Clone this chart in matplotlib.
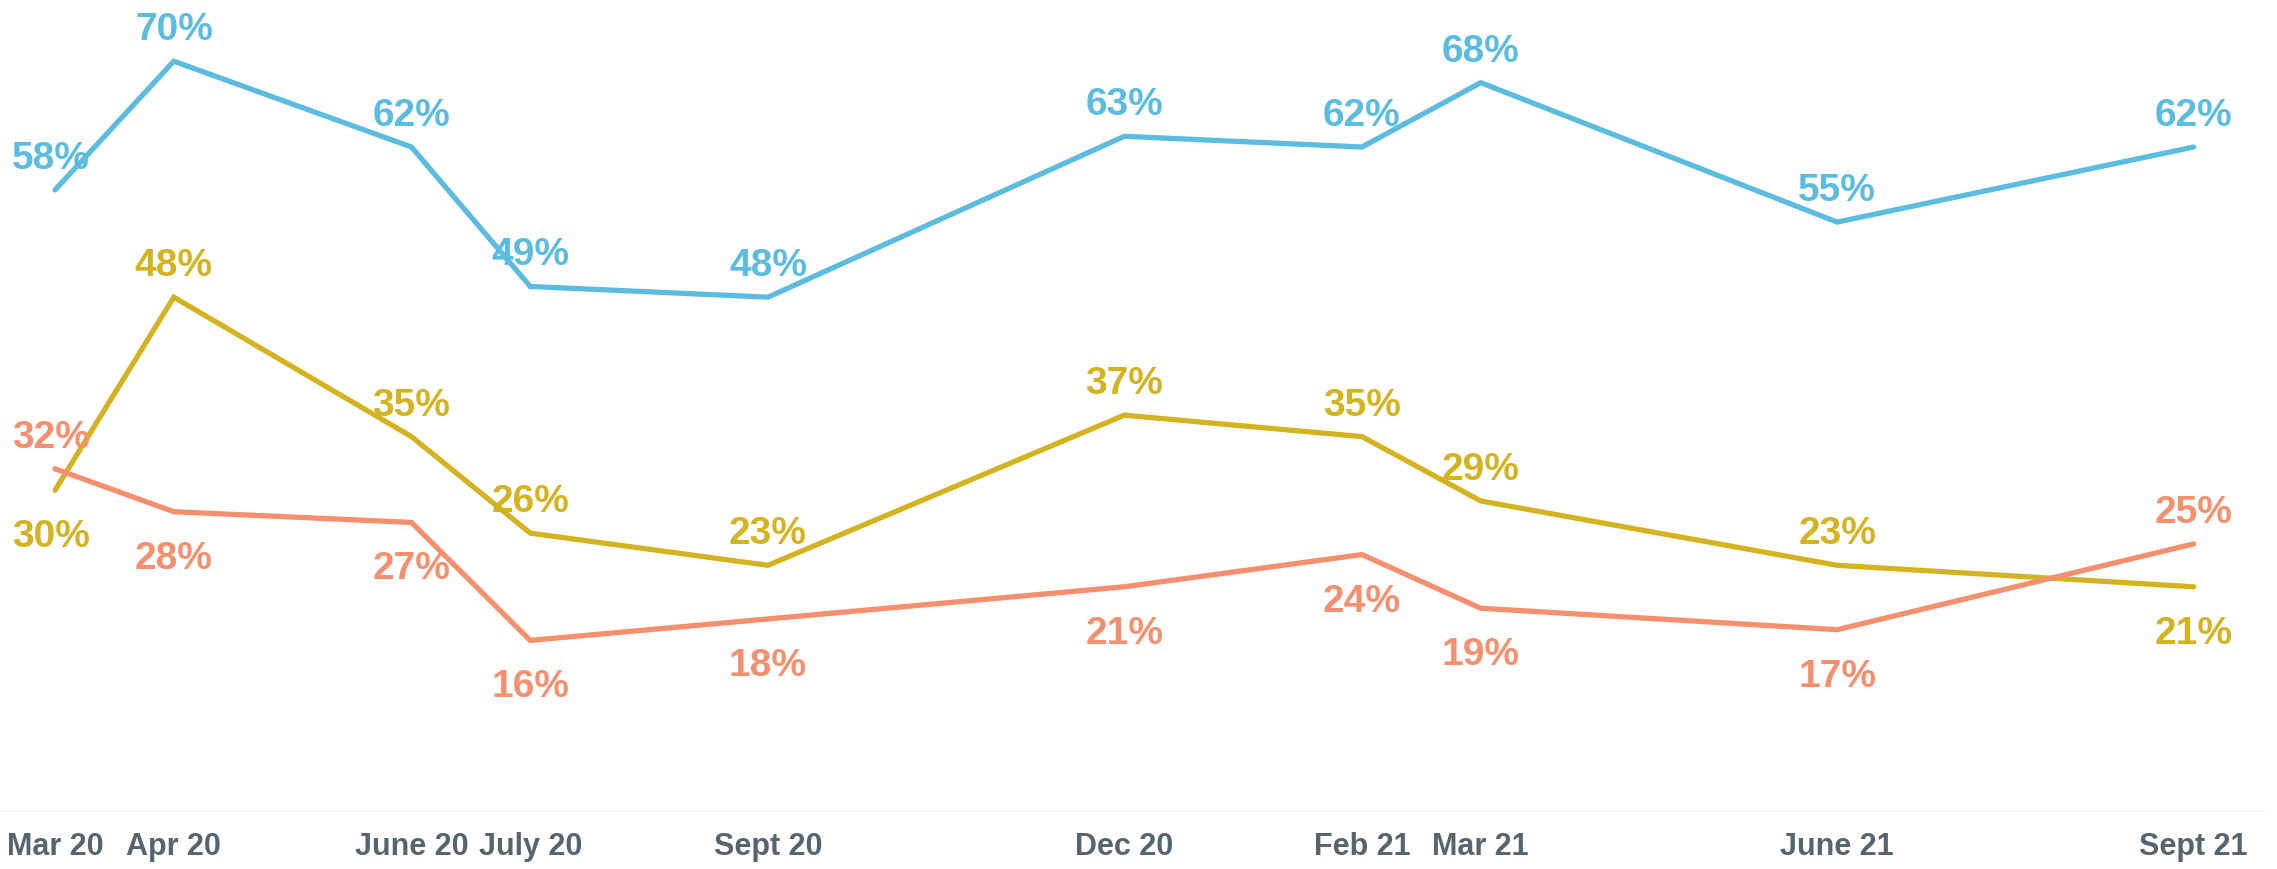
import numpy as np
import pandas as pd
import matplotlib
matplotlib.use("Agg")
import matplotlib.pyplot as plt

# survey waves
dates = ["2020-03", "2020-04", "2020-06", "2020-07", "2020-09",
         "2020-12", "2021-02", "2021-03", "2021-06", "2021-09"]
tick_labels = ["Mar 20", "Apr 20", "June 20", "July 20", "Sept 20",
               "Dec 20", "Feb 21", "Mar 21", "June 21", "Sept 21"]

blue_vals = [58, 70, 62, 49, 48, 63, 62, 68, 55, 62]
gold_vals = [30, 48, 35, 26, 23, 37, 35, 29, 23, 21]
salmon_vals = [32, 28, 27, 16, 18, 21, 24, 19, 17, 25]

# label side: +1 above, -1 below
blue_side = [1] * 10
gold_side = [-1, 1, 1, 1, 1, 1, 1, 1, 1, -1]
salmon_side = [1, -1, -1, -1, -1, -1, -1, -1, -1, 1]

colors = {"blue": "#5BBCE0", "gold": "#D4B320", "salmon": "#F58F6E"}

periods = pd.PeriodIndex(dates, freq="M")
x = np.array([(p - periods[0]).n for p in periods])

plt.rcParams["font.family"] = ["Liberation Sans Narrow", "Liberation Sans", "DejaVu Sans"]

fig = plt.figure(figsize=(22.77, 8.7), dpi=100)
ax = fig.add_axes([0, 0.0655, 0.9947, 0.9345])

for vals, side, key in [(blue_vals, blue_side, "blue"),
                        (gold_vals, gold_side, "gold"),
                        (salmon_vals, salmon_side, "salmon")]:
    ax.plot(x, vals, color=colors[key], lw=3.8, solid_capstyle="round",
            solid_joinstyle="miter", zorder=3)
    for i, (xi, v, s) in enumerate(zip(x, vals, side)):
        dx = -4 if i == 0 else 0
        dy = 32 if s > 0 else -46
        ax.annotate(f"{v}%", (xi, v), xytext=(dx, dy), textcoords="offset pixels",
                    ha="center", va="center", fontsize=28, fontweight="bold",
                    color=colors[key], zorder=4)

ax.set_xlim(-0.463, 18.6)
ax.set_ylim(0, 75.8)
ax.axhline(0, color="#EFEFEF", lw=2, zorder=1)

ax.set_xticks(x)
ax.set_xticklabels(tick_labels, fontsize=22, fontweight="bold", color="#56646E")
ax.tick_params(axis="x", length=0, pad=14)
ax.set_yticks([])
for sp in ax.spines.values():
    sp.set_visible(False)

fig.savefig("out.png", dpi=100)
